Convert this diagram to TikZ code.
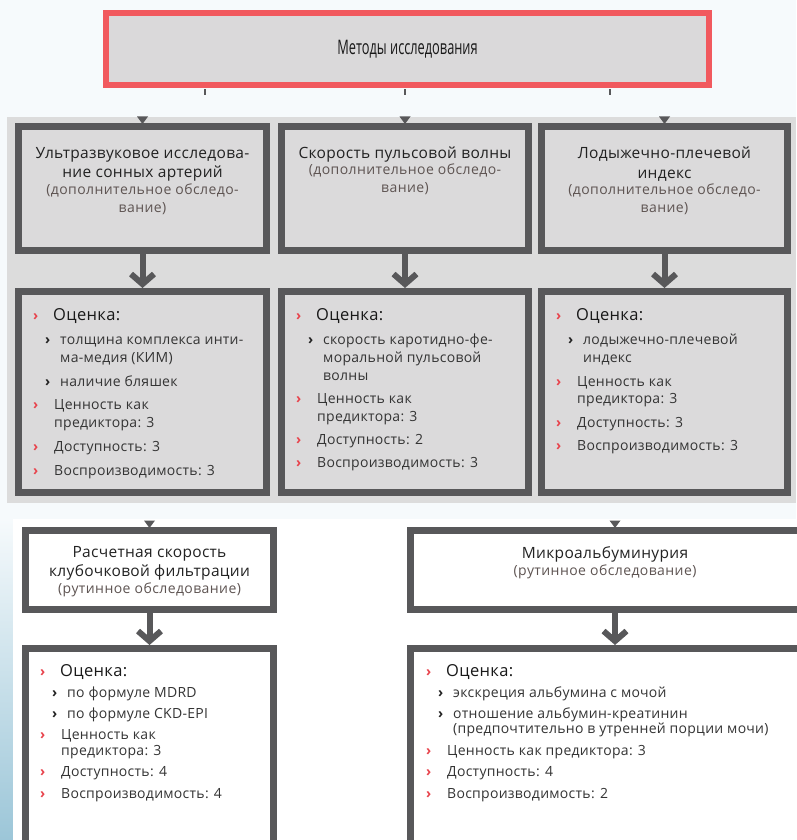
\documentclass[tikz,border=0pt]{standalone}
\usepackage{fontspec}
\setmainfont{Open Sans}
\newfontfamily\condfont[FakeStretch=0.64]{Open Sans}
\newfontfamily\itemfont[LetterSpace=2]{Open Sans}
\newfontfamily\subfont[LetterSpace=3]{Open Sans}
\newfontfamily\titfont[LetterSpace=2]{Open Sans}
\usetikzlibrary{arrows.meta}
\definecolor{bgc}{HTML}{F6FAFC}
\definecolor{panelc}{HTML}{DCDCDC}
\definecolor{boxc}{HTML}{DBDADB}
\definecolor{bordc}{HTML}{58585A}
\definecolor{hdrred}{HTML}{F1595E}
\definecolor{hdrfill}{HTML}{DAD9DA}
\definecolor{txc}{HTML}{222222}
\definecolor{itc}{HTML}{343434}
\definecolor{subc}{HTML}{5E5452}
\definecolor{bulred}{HTML}{E8434C}
\definecolor{leftblue}{HTML}{9CC6D8}
\newcommand\RBo{\makebox[20pt][l]{\textcolor{bulred}{\bfseries ›}}}
\newcommand\RB{\makebox[21pt][l]{\textcolor{bulred}{\bfseries ›}}}
\newcommand\BB{\hspace*{12pt}\makebox[15pt][l]{\textcolor{txc}{\bfseries ›}}}
\newcommand\IN{\hspace*{21pt}}
\newcommand\SIN{\hspace*{27pt}}
\newcommand\OC{{\fontsize{16.5}{17}\selectfont\color{black!90}Оценка:}}
\tikzset{
  gbox/.style={draw=bordc, line width=7pt, fill=boxc, inner sep=0pt},
  wbox/.style={gbox, fill=white},
  hdrbox/.style={draw=hdrred, line width=6pt, fill=hdrfill, inner sep=0pt,
    font=\condfont\fontsize{20}{22}\selectfont, text=black!90},
  ttl/.style={anchor=north, align=center, inner sep=0pt,
    font=\titfont\fontsize{15.5}{19.5}\selectfont, text=txc},
  subt/.style={anchor=north, align=center, inner sep=0pt,
    font=\subfont\fontsize{14}{17.5}\selectfont, text=subc},
  lst/.style={anchor=north west, align=left, inner sep=0pt,
    font=\itemfont\fontsize{14}{17.7}\selectfont, text=itc},
  lstb/.style={lst, font=\itemfont\fontsize{14}{15.5}\selectfont},
  flow/.style={draw=bordc, line width=6pt, -{Straight Barb[length=10pt,width=23pt]}},
  hdrtick/.style={draw=bordc, line width=2.5pt},
}
\begin{document}
\begin{tikzpicture}[x=1pt,y=-1pt]
\useasboundingbox (0,0) rectangle (796,840);
\fill[bgc] (0,0) rectangle (796,840);
\shade[top color=bgc, bottom color=leftblue] (0,519) rectangle (13,840);
\fill[white] (13,519) rectangle (796,840);
\fill[panelc] (7,117) rectangle (796,503);

% header
\node[hdrbox, minimum width=603pt, minimum height=72pt] (H) at (407.5,49) {Методы исследования};
\coordinate (k1) at (205,89);
\coordinate (k2) at (405,89);
\coordinate (k3) at (610,89);
\foreach \k in {k1,k2,k3} \draw[hdrtick] ([yshift=-6pt]\k) -- (\k);

% panel boxes
\node[gbox, minimum width=248pt, minimum height=124pt] (T1) at (142.5,188.5) {};
\node[gbox, minimum width=247pt, minimum height=124pt] (T2) at (405,188.5) {};
\node[gbox, minimum width=246pt, minimum height=124pt] (T3) at (664.5,188.5) {};
\node[gbox, minimum width=248pt, minimum height=201pt] (M1) at (142.5,392) {};
\node[gbox, minimum width=247pt, minimum height=201pt] (M2) at (405,392) {};
\node[gbox, minimum width=246pt, minimum height=201pt] (M3) at (664.5,392) {};

% bottom boxes
\node[wbox, minimum width=248pt, minimum height=79pt] (B1) at (149.5,570) {};
\node[wbox, minimum width=409pt, minimum height=79pt] (B2) at (615,570) {};
\node[wbox, minimum width=248pt, minimum height=208pt] (C1) at (149.5,752.5) {};
\node[wbox, minimum width=409pt, minimum height=208pt] (C2) at (615,752.5) {};

% arrows
\draw[flow] (T1) -- (M1);
\draw[flow] (T2) -- (M2);
\draw[flow] (T3) -- (M3);
\draw[flow] (B1) -- (C1);
\draw[flow] (B2) -- (C2);

% incoming arrow tips
\foreach \n in {T1,T2,T3,B1,B2}
  \fill[bordc] ([shift={(-5.5,-6.5)}]\n.north) -- ([shift={(5.5,-6.5)}]\n.north) -- ([shift={(0,1)}]\n.north) -- cycle;

% titles
\node[ttl] (T1a) at (142.5,147) {Ультразвуковое исследова-\\ние сонных артерий};
\node[subt] (T1b) at (142.5,184) {(дополнительное обследо-\\вание)};
\node[ttl] (T2a) at (405,147) {Скорость пульсовой волны};
\node[subt] (T2b) at (405,164) {(дополнительное обследо-\\вание)};
\node[ttl] (T3a) at (664.5,147) {Лодыжечно-плечевой\\индекс};
\node[subt] (T3b) at (664.5,184) {(дополнительное обследо-\\вание)};

\node[ttl] (B1a) at (149.5,546) {Расчетная скорость\\клубочковой фильтрации};
\node[subt] (B1b) at (149.5,583) {(рутинное обследование)};
\node[ttl] (B2a) at (605,546) {Микроальбуминурия};
\node[subt] (B2b) at (605,565) {(рутинное обследование)};

% lists
\node[lst] (M1t) at (33,308) {\RBo\OC\\[7pt]
\BB толщина комплекса инти-\\
\SIN ма-медия (КИМ)\\[6pt]
\BB наличие бляшек\\[6pt]
\RB Ценность как\\
\IN предиктора: 3\\[6pt]
\RB Доступность: 3\\[6pt]
\RB Воспроизводимость: 3};

\node[lst] (M2t) at (296,308) {\RBo\OC\\[7pt]
\BB скорость каротидно-фе-\\
\SIN моральной пульсовой\\
\SIN волны\\[6pt]
\RB Ценность как\\
\IN предиктора: 3\\[5pt]
\RB Доступность: 2\\[5pt]
\RB Воспроизводимость: 3};

\node[lst] (M3t) at (556,308) {\RBo\OC\\[7pt]
\BB лодыжечно-плечевой\\
\SIN индекс\\[6pt]
\RB Ценность как\\
\IN предиктора: 3\\[6pt]
\RB Доступность: 3\\[5pt]
\RB Воспроизводимость: 3};

\node[lstb] (C1t) at (40,664) {\RBo\OC\\[6pt]
\BB по формуле MDRD\\[5pt]
\BB по формуле CKD-EPI\\[6pt]
\RB Ценность как\\
\IN предиктора: 3\\[6pt]
\RB Доступность: 4\\[6pt]
\RB Воспроизводимость: 4};

\node[lstb] (C2t) at (426,664) {\RBo\OC\\[6pt]
\BB экскреция альбумина с мочой\\[5pt]
\BB отношение альбумин-креатинин\\
\SIN (предпочтительно в утренней порции мочи)\\[6pt]
\RB Ценность как предиктора: 3\\[6pt]
\RB Доступность: 4\\[6pt]
\RB Воспроизводимость: 2};
\end{tikzpicture}
\end{document}
